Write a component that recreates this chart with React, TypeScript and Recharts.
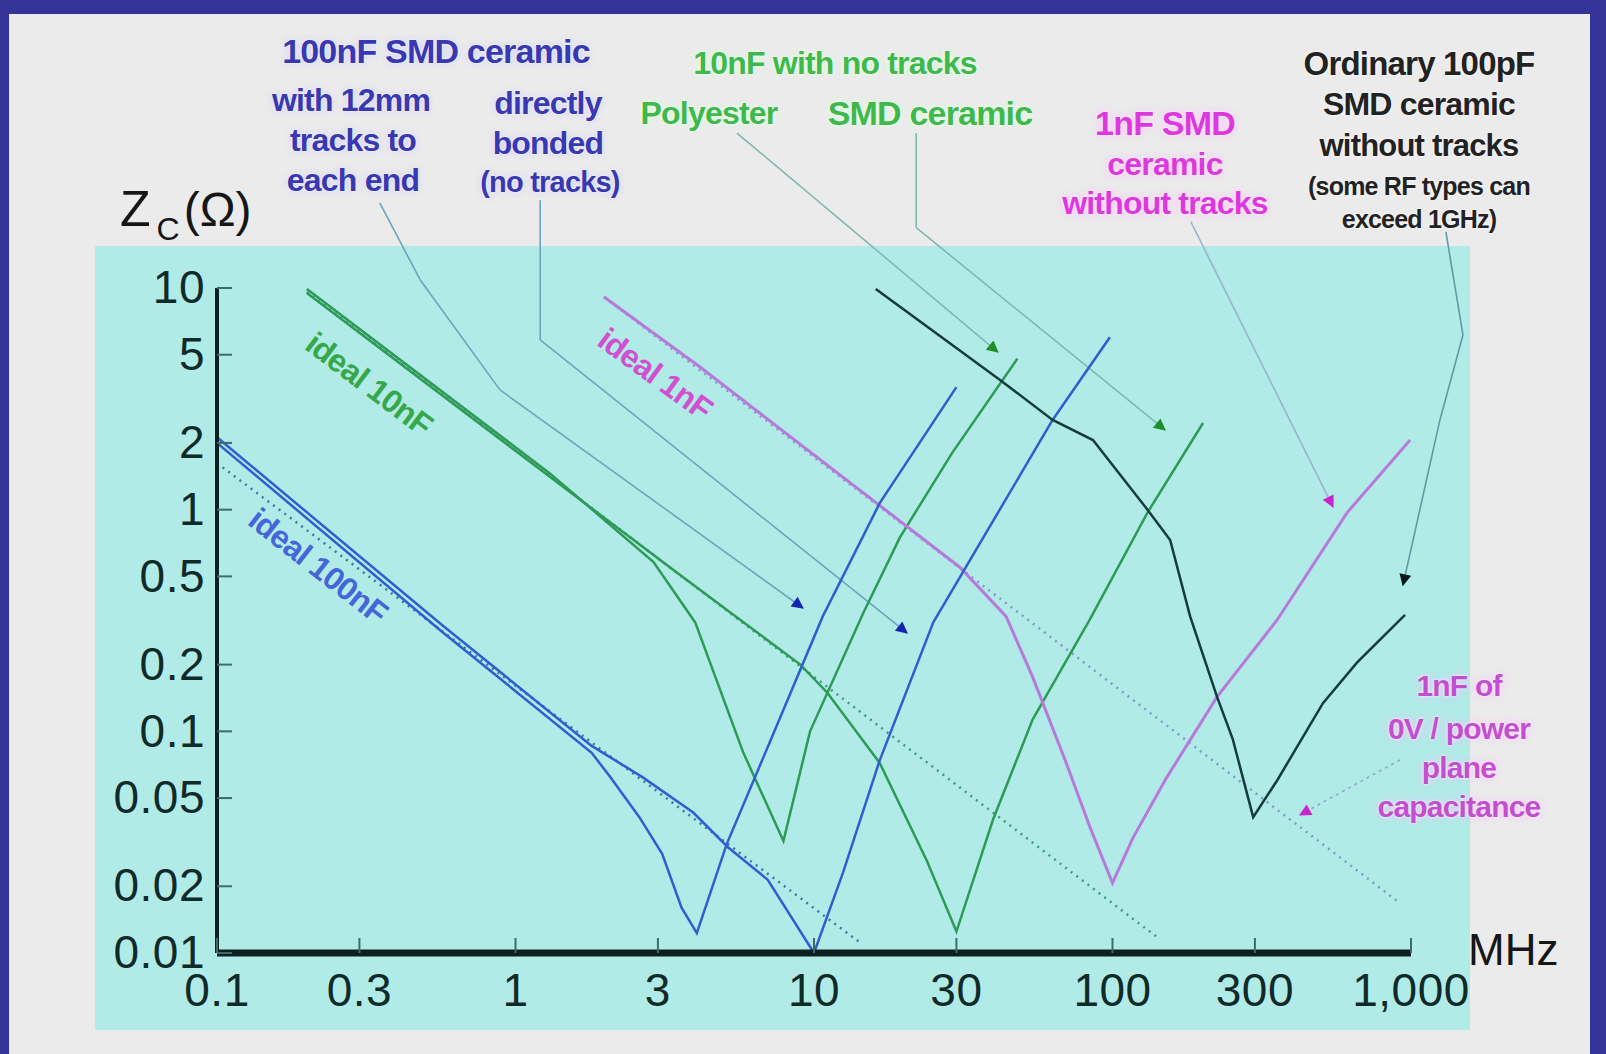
import React from "react";
import { LineChart, Line, XAxis, YAxis, ReferenceLine } from "recharts";

type Pt = { f: number; z: number };

const freqTicks = [0.1, 0.3, 1, 3, 10, 30, 100, 300, 1000];
const zTicks = [0.01, 0.02, 0.05, 0.1, 0.2, 0.5, 1, 2, 5, 10];

// pure capacitance ("ideal") lines, frequency in MHz, impedance in ohms
const ideal100nF: Pt[] = [{ f: 0.1, z: 1.62 }, { f: 14.2, z: 0.0112 }];
const ideal10nF: Pt[] = [{ f: 0.2, z: 9.6 }, { f: 141, z: 0.0118 }];
const ideal1nF: Pt[] = [{ f: 1.98, z: 9.1 }, { f: 918, z: 0.0168 }];

const tracks100nF: Pt[] = [
  { f: 0.1, z: 2.0 }, { f: 0.57, z: 0.28 }, { f: 1.8, z: 0.08 }, { f: 2.08, z: 0.062 },
  { f: 2.6, z: 0.041 }, { f: 3.1, z: 0.028 }, { f: 3.6, z: 0.016 }, { f: 4.05, z: 0.0123 },
  { f: 5.1, z: 0.031 }, { f: 7.0, z: 0.085 }, { f: 10.7, z: 0.33 }, { f: 16.6, z: 1.07 },
  { f: 30, z: 3.57 },
];
const bonded100nF: Pt[] = [
  { f: 0.1, z: 2.12 }, { f: 0.57, z: 0.3 }, { f: 1.8, z: 0.086 }, { f: 2.67, z: 0.062 },
  { f: 3.94, z: 0.043 }, { f: 5.15, z: 0.03 }, { f: 7.0, z: 0.0214 }, { f: 10, z: 0.01 },
  { f: 12.5, z: 0.023 }, { f: 16.6, z: 0.074 }, { f: 25.1, z: 0.31 }, { f: 63, z: 2.54 },
  { f: 98, z: 6.0 },
];
const polyester10nF: Pt[] = [
  { f: 0.2, z: 9.9 }, { f: 1.31, z: 1.45 }, { f: 2.9, z: 0.58 }, { f: 4.0, z: 0.31 },
  { f: 5.8, z: 0.08 }, { f: 7.9, z: 0.032 }, { f: 9.7, z: 0.1 }, { f: 14.6, z: 0.34 },
  { f: 19.4, z: 0.75 }, { f: 29, z: 1.8 }, { f: 48, z: 4.8 },
];
const ceramic10nF: Pt[] = [
  { f: 0.2, z: 9.5 }, { f: 1.31, z: 1.4 }, { f: 3.47, z: 0.52 }, { f: 5.3, z: 0.34 },
  { f: 9.0, z: 0.2 }, { f: 11.1, z: 0.149 }, { f: 16.6, z: 0.072 }, { f: 23.9, z: 0.026 },
  { f: 30, z: 0.0125 }, { f: 39.8, z: 0.04 }, { f: 54, z: 0.113 }, { f: 84, z: 0.32 },
  { f: 131, z: 0.97 }, { f: 201, z: 2.46 },
];
const smd1nF: Pt[] = [
  { f: 1.98, z: 9.1 }, { f: 4.15, z: 4.4 }, { f: 30.8, z: 0.55 }, { f: 44, z: 0.33 },
  { f: 54, z: 0.176 }, { f: 70, z: 0.072 }, { f: 84, z: 0.037 }, { f: 100, z: 0.0207 },
  { f: 117, z: 0.033 }, { f: 152, z: 0.062 }, { f: 224, z: 0.143 }, { f: 356, z: 0.318 },
  { f: 611, z: 0.97 }, { f: 993, z: 2.06 },
];
const ordinary100pF: Pt[] = [
  { f: 16.1, z: 9.9 }, { f: 42, z: 3.85 }, { f: 63, z: 2.54 }, { f: 86, z: 2.06 },
  { f: 131, z: 1.0 }, { f: 156, z: 0.73 }, { f: 182, z: 0.33 }, { f: 224, z: 0.143 },
  { f: 253, z: 0.092 }, { f: 296, z: 0.041 }, { f: 356, z: 0.06 }, { f: 507, z: 0.134 },
  { f: 659, z: 0.204 }, { f: 955, z: 0.335 },
];

// leader lines from the captions to their curves
const leader12mm: Pt[] = [{ f: 0.351, z: 24.2 }, { f: 0.479, z: 10.9 }, { f: 0.887, z: 3.47 }, { f: 9.18, z: 0.36 }];
const leaderBonded: Pt[] = [{ f: 1.21, z: 24.9 }, { f: 1.21, z: 5.83 }, { f: 20.5, z: 0.278 }];
const leaderPolyester: Pt[] = [{ f: 5.52, z: 50 }, { f: 41.3, z: 5.14 }];
const leaderCeramic10: Pt[] = [{ f: 22, z: 50 }, { f: 22, z: 18.7 }, { f: 150, z: 2.29 }];
const leader1nF: Pt[] = [{ f: 183, z: 19.9 }, { f: 548, z: 1.03 }];
const leader100pF: Pt[] = [{ f: 1309, z: 17.9 }, { f: 1493, z: 6.14 }, { f: 1250, z: 2.54 }, { f: 940, z: 0.457 }];
const leaderPlane: Pt[] = [{ f: 918, z: 0.0743 }, { f: 425, z: 0.042 }];

const FONT = "'Liberation Sans', Arial, sans-serif";
const AXIS = "#0d2020";

function YTick({ x, y, payload }: any) {
  return (
    <g>
      <line x1={x + 12} x2={x + 27} y1={y} y2={y} stroke="#3d6b6b" strokeWidth={2} />
      <text x={x} y={y} dy="0.33em" textAnchor="end" fontSize={46} fill="#102a2a" fontFamily={FONT} letterSpacing={0.5}>
        {payload.value}
      </text>
    </g>
  );
}

function XTick({ x, y, payload }: any) {
  const label = payload.value === 1000 ? "1,000" : String(payload.value);
  return (
    <g>
      <line x1={x} x2={x} y1={y - 20} y2={y - 35} stroke="#3d6b6b" strokeWidth={2} />
      <text x={x} y={y} dy="0.71em" textAnchor="middle" fontSize={46} fill="#102a2a" fontFamily={FONT} letterSpacing={0.5}>
        {label}
      </text>
    </g>
  );
}

function leaders(pts: Pt[], color: string, arrow: string, key: string, dashed = false) {
  return pts.slice(1).map((p, i) => (
    <ReferenceLine
      key={key + i}
      segment={[{ x: pts[i].f, y: pts[i].z }, { x: p.f, y: p.z }]}
      ifOverflow="visible"
      shape={(s: any) => (
        <line
          x1={s.x1}
          y1={s.y1}
          x2={s.x2}
          y2={s.y2}
          stroke={color}
          strokeWidth={1.6}
          strokeDasharray={dashed ? "3 4" : undefined}
          markerEnd={i === pts.length - 2 ? `url(#${arrow})` : undefined}
        />
      )}
    />
  ));
}

function Txt({ x, y, size = 32, color, glow, rotate = 0, children }: any) {
  return (
    <div
      style={{
        position: "absolute",
        left: x - 300,
        top: y - size * 0.6,
        width: 600,
        textAlign: "center",
        fontSize: size,
        fontWeight: "bold",
        lineHeight: `${size * 1.2}px`,
        color,
        fontFamily: FONT,
        letterSpacing: -0.8,
        whiteSpace: "nowrap",
        textShadow: glow,
        transform: rotate ? `rotate(${rotate}deg)` : undefined,
      }}
    >
      {children}
    </div>
  );
}

const BLUE = "#3838b0";
const BLUE_GLOW = "0 0 3px #ffffff, 0 0 7px #c8c8ff";
const GREEN = "#3fb84c";
const GREEN_GLOW = "0 0 3px #ffffff, 0 0 7px #d4ffd4";
const PINK = "#dd38dd";
const PINK_GLOW = "0 0 3px #ffffff, 0 0 8px #ffb8ff";
const DARK = "#222222";
const DARK_GLOW = "0 0 3px #ffffff";

export default function App() {
  return (
    <div style={{ position: "absolute", left: 0, top: 0, width: 1606, height: 1054, background: "#33339a", overflow: "hidden" }}>
      <div style={{ position: "absolute", left: 9, top: 14, width: 1581, height: 1040, background: "#ebebeb" }} />
      <div style={{ position: "absolute", left: 95, top: 246, width: 1375, height: 784, background: "#b0ebe7" }} />

      <div style={{ position: "absolute", left: 0, top: 0 }}>
        <LineChart width={1606} height={1054} margin={{ top: 288, right: 195, bottom: 41, left: 97 }}>
          <defs>
            {[
              ["arrBlue", "#1426b0"],
              ["arrGreen", "#1f8f2a"],
              ["arrPink", "#cc22cc"],
              ["arrDark", "#0a1a1a"],
            ].map(([id, c]) => (
              <marker key={id} id={id} viewBox="0 0 10 10" refX="9" refY="5" markerWidth="15" markerHeight="12" markerUnits="userSpaceOnUse" orient="auto">
                <path d="M0,0 L10,5 L0,10 z" fill={c} />
              </marker>
            ))}
          </defs>
          <XAxis
            dataKey="f"
            type="number"
            scale="log"
            domain={[0.1, 1000]}
            allowDataOverflow
            ticks={freqTicks}
            height={60}
            tickSize={0}
            tickMargin={20}
            tick={<XTick />}
            axisLine={{ stroke: AXIS, strokeWidth: 7 }}
          />
          <YAxis
            dataKey="z"
            type="number"
            scale="log"
            domain={[0.01, 10]}
            allowDataOverflow
            ticks={zTicks}
            width={120}
            tickSize={0}
            tickMargin={12}
            tick={<YTick />}
            axisLine={{ stroke: AXIS, strokeWidth: 4 }}
          />

          {leaders(leader12mm, "#6aa6bb", "arrBlue", "l12")}
          {leaders(leaderBonded, "#6aa6bb", "arrBlue", "lb")}
          {leaders(leaderPolyester, "#7fb8b0", "arrGreen", "lp")}
          {leaders(leaderCeramic10, "#7fb8b0", "arrGreen", "lc")}
          {leaders(leader1nF, "#98b4cc", "arrPink", "l1")}
          {leaders(leader100pF, "#5c9ca4", "arrDark", "lk")}
          {leaders(leaderPlane, "#90a6cc", "arrPink", "lpl", true)}

          <Line data={ideal100nF} dataKey="z" stroke="#3b78a8" strokeWidth={2.5} strokeDasharray="2 5" dot={false} isAnimationActive={false} />
          <Line data={ideal10nF} dataKey="z" stroke="#3c9c7c" strokeWidth={2.5} strokeDasharray="2 5" dot={false} isAnimationActive={false} />
          <Line data={ideal1nF} dataKey="z" stroke="#8298c8" strokeWidth={2.5} strokeDasharray="2 5" dot={false} isAnimationActive={false} />

          <Line data={polyester10nF} dataKey="z" stroke="#2e9a58" strokeWidth={2.5} dot={false} isAnimationActive={false} />
          <Line data={ceramic10nF} dataKey="z" stroke="#2e9a58" strokeWidth={2.5} dot={false} isAnimationActive={false} />
          <Line data={smd1nF} dataKey="z" stroke="#b67ad8" strokeWidth={3} dot={false} isAnimationActive={false} />
          <Line data={tracks100nF} dataKey="z" stroke="#2f5fcf" strokeWidth={2.5} dot={false} isAnimationActive={false} />
          <Line data={bonded100nF} dataKey="z" stroke="#2f5fcf" strokeWidth={2.5} dot={false} isAnimationActive={false} />
          <Line data={ordinary100pF} dataKey="z" stroke="#143c3c" strokeWidth={2.5} dot={false} isAnimationActive={false} />
        </LineChart>
      </div>

      {/* axis titles */}
      <div style={{ position: "absolute", left: 120, top: 180, fontFamily: FONT, color: "#161616", whiteSpace: "nowrap" }}>
        <span style={{ fontSize: 50 }}>Z</span>
        <span style={{ fontSize: 32, position: "relative", top: 14, marginLeft: 6, marginRight: 4 }}>C</span>
        <span style={{ fontSize: 48 }}>(Ω)</span>
      </div>
      <div style={{ position: "absolute", left: 1468, top: 925, fontSize: 44, fontFamily: FONT, color: "#161616" }}>MHz</div>

      {/* 100nF captions */}
      <Txt x={436} y={51} size={34} color={BLUE} glow={BLUE_GLOW}>100nF SMD ceramic</Txt>
      <Txt x={351} y={100} color={BLUE} glow={BLUE_GLOW}>with 12mm</Txt>
      <Txt x={353} y={140} color={BLUE} glow={BLUE_GLOW}>tracks to</Txt>
      <Txt x={353} y={180} color={BLUE} glow={BLUE_GLOW}>each end</Txt>
      <Txt x={548} y={103} color={BLUE} glow={BLUE_GLOW}>directly</Txt>
      <Txt x={548} y={143} color={BLUE} glow={BLUE_GLOW}>bonded</Txt>
      <Txt x={550} y={182} size={29} color={BLUE} glow={BLUE_GLOW}>(no tracks)</Txt>

      {/* 10nF captions */}
      <Txt x={835} y={63} color={GREEN} glow={GREEN_GLOW}>10nF with no tracks</Txt>
      <Txt x={709} y={113} color={GREEN} glow={GREEN_GLOW}>Polyester</Txt>
      <Txt x={930} y={113} size={34} color={GREEN} glow={GREEN_GLOW}>SMD ceramic</Txt>

      {/* 1nF captions */}
      <Txt x={1165} y={123} size={34} color={PINK} glow={PINK_GLOW}>1nF SMD</Txt>
      <Txt x={1165} y={164} color={PINK} glow={PINK_GLOW}>ceramic</Txt>
      <Txt x={1165} y={203} color={PINK} glow={PINK_GLOW}>without tracks</Txt>

      {/* 100pF captions */}
      <Txt x={1419} y={64} size={33} color={DARK} glow={DARK_GLOW}>Ordinary 100pF</Txt>
      <Txt x={1419} y={104} color={DARK} glow={DARK_GLOW}>SMD ceramic</Txt>
      <Txt x={1419} y={146} size={31} color={DARK} glow={DARK_GLOW}>without tracks</Txt>
      <Txt x={1419} y={186} size={25} color={DARK} glow={DARK_GLOW}>(some RF types can</Txt>
      <Txt x={1419} y={219} size={25} color={DARK} glow={DARK_GLOW}>exceed 1GHz)</Txt>

      {/* plane capacitance caption */}
      <Txt x={1459} y={686} size={30} color="#c24fd0" glow={PINK_GLOW}>1nF of</Txt>
      <Txt x={1459} y={729} size={30} color="#c24fd0" glow={PINK_GLOW}>0V / power</Txt>
      <Txt x={1459} y={768} size={30} color="#c24fd0" glow={PINK_GLOW}>plane</Txt>
      <Txt x={1459} y={807} size={30} color="#c24fd0" glow={PINK_GLOW}>capacitance</Txt>

      {/* labels on the ideal lines */}
      <Txt x={369} y={384} size={32} color="#36a84a" rotate={37}>ideal 10nF</Txt>
      <Txt x={318} y={566} size={32} color="#4466d8" rotate={38}>ideal 100nF</Txt>
      <Txt x={655} y={374} size={32} color="#d050d0" rotate={36}>ideal 1nF</Txt>
    </div>
  );
}
